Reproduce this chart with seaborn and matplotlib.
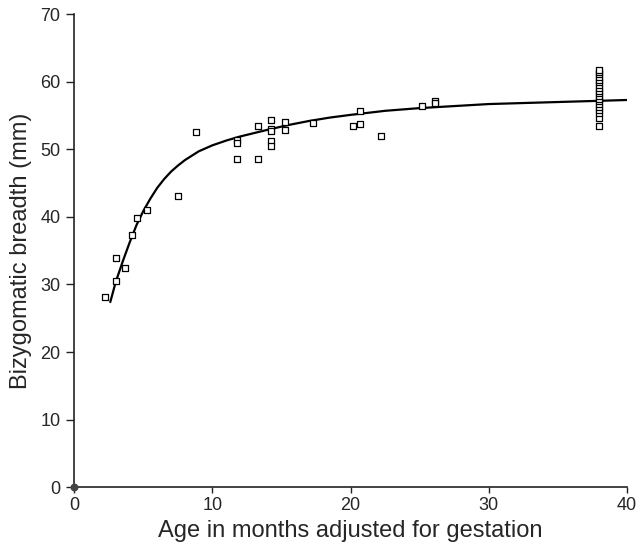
import matplotlib
matplotlib.use("Agg")
import matplotlib.pyplot as plt
import seaborn as sns
import pandas as pd

# observed points (age in months, bizygomatic breadth in mm)
age_months = [2.25, 3.0, 3.0, 3.65, 4.2, 4.5, 5.25, 7.5, 8.8,
              11.8, 11.8, 11.8, 13.3, 13.3, 14.2, 14.2, 14.2, 14.2, 14.2,
              15.25, 15.25, 17.3, 20.2, 20.7, 20.7, 22.2, 25.2, 26.1, 26.1,
              38.0, 38.0, 38.0, 38.0, 38.0, 38.0, 38.0, 38.0, 38.0, 38.0,
              38.0, 38.0, 38.0, 38.0, 38.0, 38.0, 38.0, 38.0, 38.0]
breadth_mm = [28.2, 33.9, 30.5, 32.5, 37.3, 39.8, 41.0, 43.1, 52.5,
              51.4, 51.0, 48.6, 53.4, 48.6, 54.4, 53.0, 52.7, 51.3, 50.5,
              54.1, 52.9, 53.9, 53.4, 53.7, 55.6, 51.9, 56.4, 57.2, 56.9,
              53.4, 54.6, 55.4, 55.8, 56.3, 56.7, 57.1, 57.5, 57.9, 58.3,
              58.7, 59.1, 59.5, 59.9, 60.3, 60.7, 61.1, 61.4, 61.7]

# fitted growth curve
curve_age = [2.6, 3.0, 3.5, 4.0, 4.5, 5.0, 5.5, 6.0, 6.5, 7.0, 7.5, 8.0,
             9.0, 10.0, 11.0, 12.0, 13.0, 14.0, 15.5, 17.0, 18.5, 20.0,
             22.5, 25.0, 27.5, 30.0, 35.0, 40.0]
curve_breadth = [27.4, 30.4, 33.4, 36.2, 38.8, 40.9, 42.7, 44.3, 45.6, 46.7,
                 47.6, 48.4, 49.7, 50.6, 51.3, 51.9, 52.4, 52.9, 53.6, 54.2,
                 54.7, 55.1, 55.7, 56.1, 56.4, 56.7, 57.0, 57.3]

origin_age = [0.0]
origin_breadth = [0.0]

sns.set_style("ticks")
plt.rcParams['font.family'] = ['Liberation Sans', 'DejaVu Sans']

fig = plt.figure(figsize=(6.41, 5.45), dpi=100)
ax = fig.add_axes([0.116, 0.106, 0.862, 0.868])

pts = pd.DataFrame({'age': age_months, 'breadth': breadth_mm})
fit = pd.DataFrame({'age': curve_age, 'breadth': curve_breadth})

sns.lineplot(data=fit, x='age', y='breadth', color='black', linewidth=1.6,
             sort=False, ax=ax, zorder=2)
sns.scatterplot(data=pts, x='age', y='breadth', marker='s', s=22,
                facecolor='white', edgecolor='black', linewidth=0.9,
                ax=ax, zorder=3)
ax.scatter(origin_age, origin_breadth, s=22, color='#444444', zorder=4,
           clip_on=False)

ax.set_xlim(0, 40)
ax.set_ylim(0, 70)
ax.set_xticks([0, 10, 20, 30, 40])
ax.set_yticks(range(0, 71, 10))
ax.tick_params(axis='both', labelsize=13, direction='out', width=1, color='#222222')
ax.tick_params(axis='y', length=6, pad=4)
ax.tick_params(axis='x', length=4, pad=3)
for side in ['left', 'bottom']:
    ax.spines[side].set_linewidth(1.2)
    ax.spines[side].set_color('#222222')
sns.despine(ax=ax)

ax.set_xlabel('Age in months adjusted for gestation', fontsize=17, labelpad=4)
ax.set_ylabel('Bizygomatic breadth (mm)', fontsize=17, labelpad=6)

fig.savefig('out.png', dpi=100)
